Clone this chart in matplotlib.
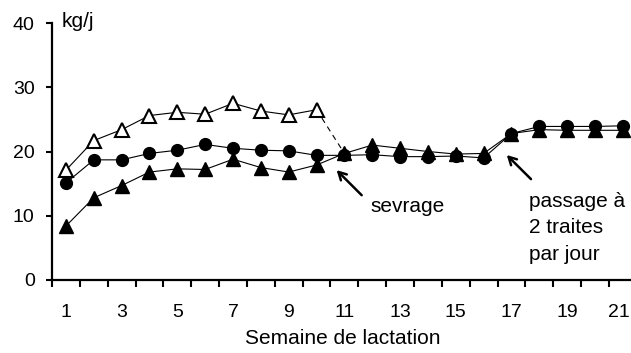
import matplotlib
matplotlib.use("Agg")
import matplotlib.pyplot as plt
import matplotlib.transforms as mtransforms
import numpy as np

plt.rcParams['font.family'] = ['Liberation Sans', 'DejaVu Sans']

weeks = list(range(1, 22))
weeks_open = list(range(1, 11))
open_tri = [17.1, 21.7, 23.4, 25.6, 26.1, 25.8, 27.5, 26.3, 25.7, 26.5]
circles = [15.1, 18.7, 18.7, 19.7, 20.2, 21.1, 20.5, 20.2, 20.1, 19.4, 19.4,
           19.5, 19.2, 19.2, 19.3, 19.0, 22.8, 23.9, 23.9, 23.9, 24.0]
filled_tri = [8.4, 12.8, 14.7, 16.8, 17.3, 17.2, 18.8, 17.5, 16.8, 17.9, 19.7,
              21.0, 20.5, 20.0, 19.6, 19.7, 22.8, 23.4, 23.3, 23.3, 23.3]
yticks = [0, 10, 20, 30, 40]
xlabels = [str(w) for w in range(1, 22, 2)]

FS_TICK = 14
FS = 15

fig = plt.figure(figsize=(6.31, 3.53), dpi=100)
ax = fig.add_axes([52/631, 73/353, (636.8-52)/631, 257/353])

# dashed link after weaning
ax.plot([weeks_open[-1], weeks[10]], [open_tri[-1], filled_tri[10]],
        color='black', lw=0.8, ls=(0, (5, 4)), zorder=1)

ax.plot(weeks, circles, color='black', lw=0.8, marker='o', ms=8.5,
        mfc='black', mec='black', zorder=3, clip_on=False)
ax.plot(weeks, filled_tri, color='black', lw=0.8, marker='^', ms=9.5,
        mfc='black', mec='black', zorder=3, clip_on=False)
ax.plot(weeks_open, open_tri, color='black', lw=0.8, marker='^', ms=9.5,
        mfc='white', mec='black', mew=1.5, zorder=4, clip_on=False)

ax.set_xlim(0.5, 21.5)
ax.set_ylim(0, 40)
ax.set_xticks(np.arange(0.5, 22, 1))
ax.set_xticklabels([])
ax.set_xticks(range(1, 22, 2), minor=True)
ax.set_xticklabels(xlabels, minor=True)
ax.tick_params(axis='x', which='major', direction='out', length=5, width=1.5)
ax.tick_params(axis='x', which='minor', length=0, pad=17, labelsize=FS_TICK)
ax.set_yticks(yticks)
ax.set_yticklabels([str(v) for v in yticks])
ax.tick_params(axis='y', direction='out', length=4.5, width=1.5, pad=8, labelsize=FS_TICK)

# keep the last label ("21") inside the figure edge
last = ax.get_xticklabels(minor=True)[-1]
last.set_horizontalalignment('right')
last.set_transform(last.get_transform() +
                   mtransforms.ScaledTranslation(7/100, 0, fig.dpi_scale_trans))

for s in ['top', 'right']:
    ax.spines[s].set_visible(False)
for s in ['left', 'bottom']:
    ax.spines[s].set_linewidth(1.6)

ax.text(0.85, 39.33, 'kg/j', fontsize=FS, ha='left', va='baseline')

arrow = dict(arrowstyle='->,head_length=0.55,head_width=0.3', lw=1.8, color='black',
             shrinkA=0, shrinkB=0)
ax.annotate('', xy=(10.72, 17.1), xytext=(11.62, 13.2), arrowprops=arrow)
ax.text(11.92, 10.63, 'sevrage', fontsize=FS, ha='left', va='baseline')

ax.annotate('', xy=(16.83, 19.45), xytext=(17.7, 15.7), arrowprops=arrow)
for txt, yy in zip(['passage à', '2 traites', 'par jour'], [11.41, 7.27, 3.11]):
    ax.text(17.64, yy, txt, fontsize=FS, ha='left', va='baseline')

fig.text(343/631, 1-338/353, 'Semaine de lactation', fontsize=FS,
         ha='center', va='center')

fig.savefig('out.png', dpi=100)
